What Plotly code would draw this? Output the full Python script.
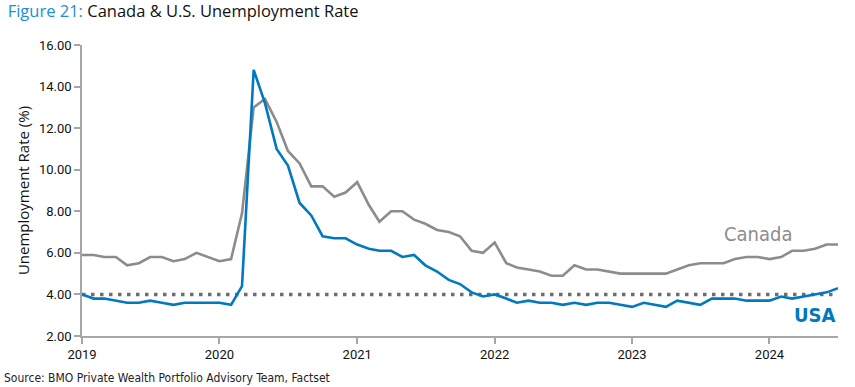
import plotly.graph_objects as go
import pandas as pd

dates = pd.date_range("2019-01-01", "2024-07-01", freq="MS")

canada = [5.9, 5.9, 5.8, 5.8, 5.4, 5.5, 5.8, 5.8, 5.6, 5.7, 6.0, 5.8,
          5.6, 5.7, 7.9, 13.0, 13.4, 12.3, 10.9, 10.3, 9.2, 9.2, 8.7, 8.9,
          9.4, 8.3, 7.5, 8.0, 8.0, 7.6, 7.4, 7.1, 7.0, 6.8, 6.1, 6.0,
          6.5, 5.5, 5.3, 5.2, 5.1, 4.9, 4.9, 5.4, 5.2, 5.2, 5.1, 5.0,
          5.0, 5.0, 5.0, 5.0, 5.2, 5.4, 5.5, 5.5, 5.5, 5.7, 5.8, 5.8,
          5.7, 5.8, 6.1, 6.1, 6.2, 6.4, 6.4]

usa = [4.0, 3.8, 3.8, 3.7, 3.6, 3.6, 3.7, 3.6, 3.5, 3.6, 3.6, 3.6,
       3.6, 3.5, 4.4, 14.8, 13.2, 11.0, 10.2, 8.4, 7.8, 6.8, 6.7, 6.7,
       6.4, 6.2, 6.1, 6.1, 5.8, 5.9, 5.4, 5.1, 4.7, 4.5, 4.1, 3.9,
       4.0, 3.8, 3.6, 3.7, 3.6, 3.6, 3.5, 3.6, 3.5, 3.6, 3.6, 3.5,
       3.4, 3.6, 3.5, 3.4, 3.7, 3.6, 3.5, 3.8, 3.8, 3.8, 3.7, 3.7,
       3.7, 3.9, 3.8, 3.9, 4.0, 4.1, 4.3]

reference_level = 4.0
y_ticks = [2, 4, 6, 8, 10, 12, 14, 16]
x_ticks = ["2019-01-01", "2020-01-01", "2021-01-01", "2022-01-01", "2023-01-01", "2024-01-01"]
x_tick_labels = ["2019", "2020", "2021", "2022", "2023", "2024"]

GRAY = "#8c8c8c"
BLUE = "#0079c1"
NARROW = "DejaVu Sans Condensed, Roboto, sans-serif"
TICKFONT = "Roboto, Liberation Sans, sans-serif"
MAINFONT = "Open Sans, Noto Sans, sans-serif"

fig = go.Figure()
fig.add_trace(go.Scatter(x=dates, y=canada, mode="lines", name="Canada",
                         line=dict(color=GRAY, width=2.6), showlegend=False))
fig.add_trace(go.Scatter(x=dates, y=usa, mode="lines", name="USA",
                         line=dict(color=BLUE, width=2.6), showlegend=False))

fig.add_shape(type="line", xref="x", yref="y", x0=dates[0], x1=dates[-1],
              y0=reference_level, y1=reference_level,
              line=dict(color="#6e6e6e", width=3.5, dash="3.5px,5.5px"), layer="below")

fig.add_annotation(x=dates[-8], y=canada[-8] + 0.45, text="Canada", showarrow=False,
                   xanchor="center", yanchor="bottom",
                   font=dict(family=NARROW, size=20, color=GRAY))
fig.add_annotation(x=dates[-3], y=3.68, text="<b>USA</b>", showarrow=False,
                   xanchor="center", yanchor="top",
                   font=dict(family=NARROW, size=20, color=BLUE))

fig.add_annotation(xref="paper", yref="paper", x=-0.106, y=-0.115, xanchor="left", yanchor="top",
                   text="Source: BMO Private Wealth Portfolio Advisory Team, Factset",
                   showarrow=False, font=dict(family=NARROW, size=12, color="#222"))

fig.update_layout(
    width=855, height=387,
    margin=dict(l=82, r=17, t=45, b=51),
    paper_bgcolor="white", plot_bgcolor="white",
    title=dict(text="<span style='color:#1a8fd6'>Figure 21:</span> Canada &amp; U.S. Unemployment Rate",
               x=0.009, xanchor="left", y=0.985, yanchor="top",
               font=dict(family=MAINFONT, size=16.5, color="#111")),
)
fig.update_xaxes(range=[dates[0], dates[-1]], tickvals=x_ticks, ticktext=x_tick_labels,
                 showgrid=False, showline=True, linecolor="#a6a6a6", linewidth=1.5,
                 ticks="outside", ticklen=6, tickcolor="#a6a6a6", tickwidth=1.5,
                 tickfont=dict(family=TICKFONT, size=13, color="#111"), zeroline=False,
                 automargin=False)
fig.update_yaxes(range=[2, 16], tickvals=y_ticks, tickformat=".2f",
                 showgrid=False, showline=True, linecolor="#a6a6a6", linewidth=1.5,
                 ticks="outside", ticklen=6, tickcolor="#a6a6a6", tickwidth=1.5,
                 tickfont=dict(family=TICKFONT, size=13, color="#111"), zeroline=False,
                 automargin=False,
                 title=dict(text="Unemployment Rate (%)", standoff=6,
                            font=dict(family=MAINFONT, size=15, color="#111")))

fig.write_html("out.html", config={"displayModeBar": False},
               post_script="document.body.style.margin='0px';")
